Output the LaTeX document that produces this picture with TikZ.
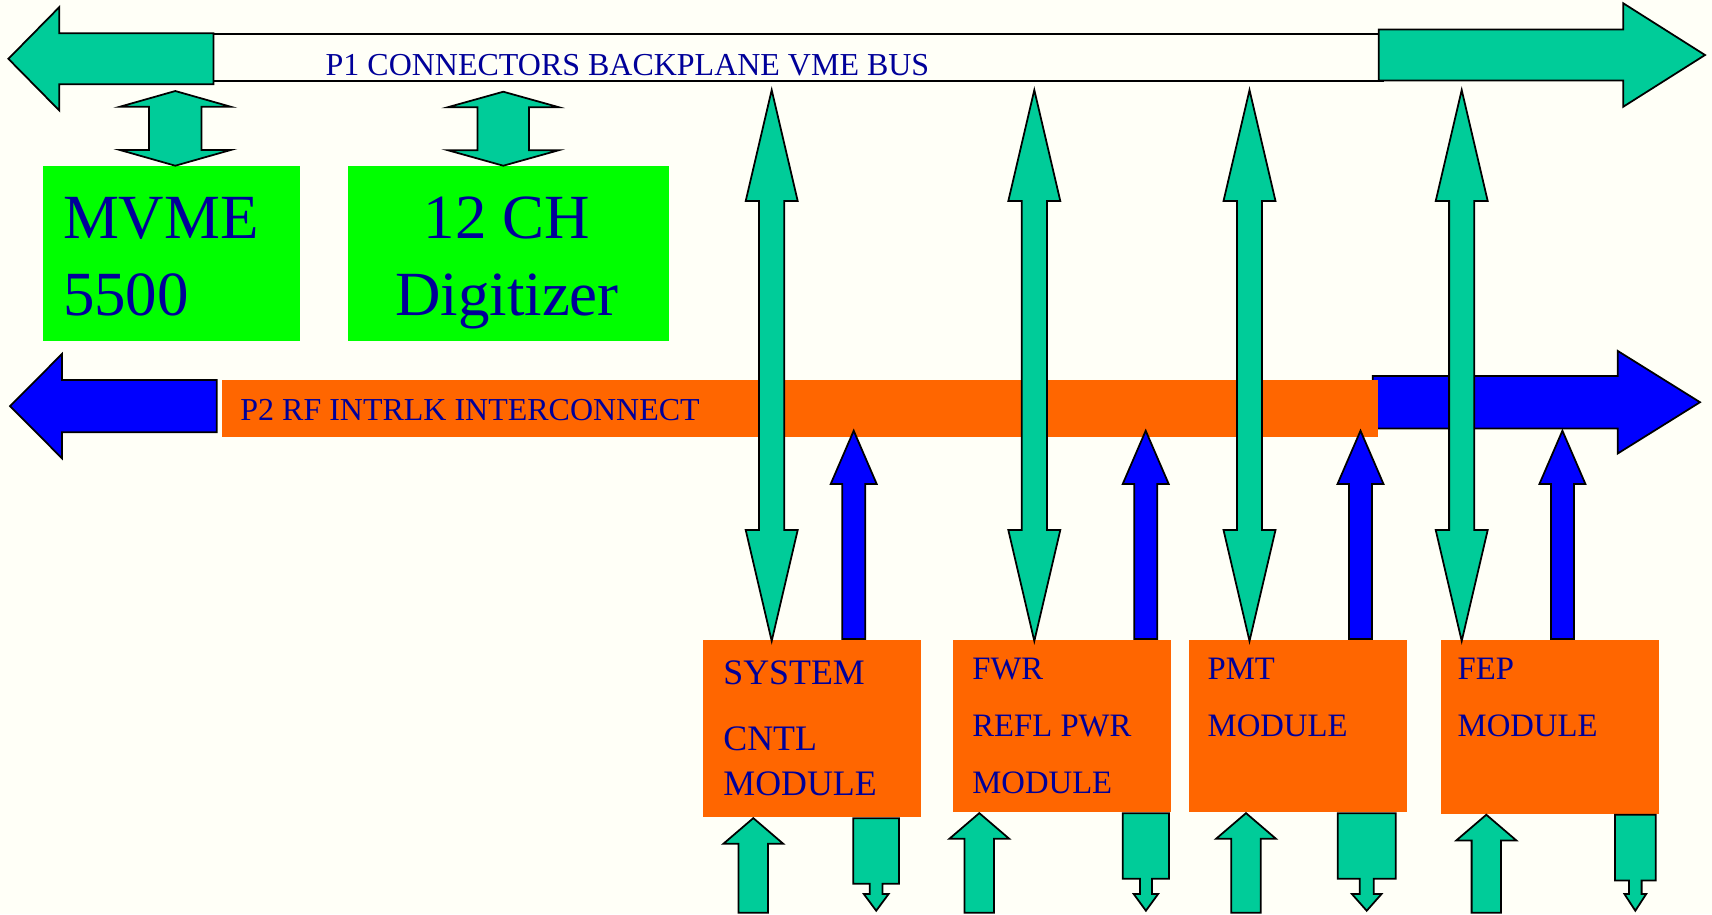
\documentclass[tikz,border=0pt]{standalone}
\usepackage{fontspec}
\setmainfont{Liberation Serif}
\usetikzlibrary{calc,positioning}

\definecolor{paper}{RGB}{255,255,247}
\definecolor{busteal}{RGB}{0,204,153}
\definecolor{boardgreen}{RGB}{0,255,0}
\definecolor{rforange}{RGB}{255,102,0}
\definecolor{rfblue}{RGB}{0,0,255}
\definecolor{navy}{RGB}{0,0,153}

% fat single arrow: [style]{tail}{tip}{head length}{head half width}{shaft half width}
\newcommand{\fatarrow}[6][]{%
  \coordinate (fa-h) at ($(#3)!#4!(#2)$);
  \draw[#1] ($(#2)!#6!90:(#3)$) -- ($(fa-h)!#6!-90:(#2)$) -- ($(fa-h)!#5!-90:(#2)$) -- (#3)
    -- ($(fa-h)!#5!90:(#2)$) -- ($(fa-h)!#6!90:(#2)$) -- ($(#2)!#6!-90:(#3)$) -- cycle;}

% fat double arrow: [style]{end a}{end b}{head length}{head half width}{shaft half width}
\newcommand{\fatdbl}[6][]{%
  \coordinate (fd-a) at ($(#2)!#4!(#3)$);
  \coordinate (fd-b) at ($(#3)!#4!(#2)$);
  \draw[#1] (#2) -- ($(fd-a)!#5!90:(#3)$) -- ($(fd-a)!#6!90:(#3)$)
    -- ($(fd-b)!#6!-90:(#2)$) -- ($(fd-b)!#5!-90:(#2)$) -- (#3)
    -- ($(fd-b)!#5!90:(#2)$) -- ($(fd-b)!#6!90:(#2)$)
    -- ($(fd-a)!#6!-90:(#3)$) -- ($(fd-a)!#5!-90:(#3)$) -- cycle;}

% output arrow, wide box then thin neck: [style]{tail}{tip}{box half}{box length}{neck half}{head length}{head half}
\newcommand{\outarrow}[8][]{%
  \coordinate (oa-b) at ($(#2)!#5!(#3)$);
  \coordinate (oa-h) at ($(#3)!#7!(#2)$);
  \draw[#1] ($(#2)!#4!90:(#3)$) -- ($(oa-b)!#4!-90:(#2)$) -- ($(oa-b)!#6!-90:(#2)$)
    -- ($(oa-h)!#6!-90:(#2)$) -- ($(oa-h)!#8!-90:(#2)$) -- (#3)
    -- ($(oa-h)!#8!90:(#2)$) -- ($(oa-h)!#6!90:(#2)$) -- ($(oa-b)!#6!90:(#2)$)
    -- ($(oa-b)!#4!90:(#2)$) -- ($(#2)!#4!-90:(#3)$) -- cycle;}

\begin{document}
\begin{tikzpicture}[
    lbl/.style={text=navy, inner sep=0pt, anchor=base west, align=left},
    board/.style={fill=boardgreen, minimum height=1.75cm, inner sep=0pt, anchor=north west},
    module/.style={fill=rforange, minimum width=2.18cm, inner sep=0pt, anchor=north west},
    busarrow/.style={fill=busteal, draw=black, line width=0.5pt},
    rfarrow/.style={fill=rfblue, draw=black, line width=0.5pt}
]
\fill[paper] (0,0) rectangle (17.12,-9.14);

% P1 backplane
\node[draw, line width=0.6pt, fill=paper, minimum width=11.77cm, minimum height=0.467cm, inner sep=0pt, anchor=north west] (p1) at (2.05,-0.333) {};
\coordinate (p1west) at (2.135,-0.588);
\coordinate (p1westend) at (0.084,-0.588);
\coordinate (p1east) at (13.787,-0.55);
\coordinate (p1eastend) at (17.05,-0.55);
\fatarrow[busarrow]{p1west}{p1westend}{0.509cm}{0.517cm}{0.255cm}
\fatarrow[busarrow]{p1east}{p1eastend}{0.817cm}{0.517cm}{0.254cm}
\node[lbl, font=\fontsize{9.1}{11}\selectfont] (p1lbl) at (3.25,-0.75) {P1 CONNECTORS BACKPLANE VME BUS};

% CPU and digitizer boards
\node[board, minimum width=2.571cm] (mvme) at (0.424,-1.657) {};
\node[board, minimum width=3.205cm, right=0.464cm of mvme.north east, anchor=north west] (dig) {};
\node[lbl, font=\fontsize{17.9}{21.8}\selectfont] (mvmelbl) at (0.623,-3.15) {MVME\\5500};
\node[lbl, anchor=base, align=center, font=\fontsize{17.9}{21.8}\selectfont] (diglbl) at (5.07,-3.15) {12 CH\\Digitizer};

\coordinate (mvmebus) at (1.753,-0.91);
\coordinate (mvmeslot) at (mvmebus |- mvme.north);
\fatdbl[busarrow]{mvmebus}{mvmeslot}{0.158cm}{0.557cm}{0.262cm}
\coordinate (digbus) at (5.033,-0.917);
\coordinate (digslot) at (digbus |- dig.north);
\fatdbl[busarrow]{digbus}{digslot}{0.155cm}{0.555cm}{0.258cm}

% P2 interconnect
\coordinate (p2west) at (2.167,-4.061);
\coordinate (p2westend) at (0.101,-4.061);
\coordinate (p2east) at (13.727,-4.022);
\coordinate (p2eastend) at (17.00,-4.022);
\fatarrow[rfarrow]{p2west}{p2westend}{0.519cm}{0.522cm}{0.262cm}
\fatarrow[rfarrow]{p2east}{p2eastend}{0.823cm}{0.513cm}{0.262cm}
\node[fill=rforange, minimum width=11.569cm, minimum height=0.577cm, inner sep=0pt, anchor=north west] (p2) at (2.208,-3.79) {};
\node[lbl, font=\fontsize{9.1}{11}\selectfont] (p2lbl) at (2.397,-4.20) {P2 RF INTRLK INTERCONNECT};

% RF modules
\node[module, minimum height=1.777cm] (sys) at (7.02,-6.39) {};
\node[module, minimum height=1.727cm, right=0.31cm of sys.north east, anchor=north west] (fwr) {};
\node[module, minimum height=1.727cm, right=0.169cm of fwr.north east, anchor=north west] (pmt) {};
\node[module, minimum height=1.743cm, right=0.322cm of pmt.north east, anchor=north west] (fep) {};

\node[lbl, font=\fontsize{10.2}{12.8}\selectfont] (syslbl) at (7.227,-7.95) {SYSTEM\\[5.9pt]CNTL\\MODULE};
\node[lbl, font=\fontsize{9.3}{16.2}\selectfont] (fwrlbl) at (9.717,-7.933) {FWR\\REFL PWR\\MODULE};
\node[lbl, font=\fontsize{9.3}{16.2}\selectfont] (pmtlbl) at (12.07,-7.367) {PMT\\MODULE};
\node[lbl, font=\fontsize{9.3}{16.2}\selectfont] (feplbl) at (14.57,-7.367) {FEP\\MODULE};

% VME bus to modules
\foreach \m/\tx in {sys/7.717, fwr/10.343, pmt/12.495, fep/14.617} {
  \coordinate (bus\m) at (\tx,-0.90);
  \coordinate (slot\m) at ($(bus\m |- \m.north)+(0,-0.02)$);
  \fatdbl[busarrow]{bus\m}{slot\m}{1.11cm}{0.26cm}{0.126cm}
}

% modules to P2
\foreach \m/\bx in {sys/8.537, fwr/11.457, pmt/13.605, fep/15.624} {
  \coordinate (rf\m) at (\bx,-4.307);
  \coordinate (rfport\m) at (rf\m |- \m.north);
  \fatarrow[rfarrow]{rfport\m}{rf\m}{0.533cm}{0.23cm}{0.115cm}
}

% front panel in / out
\foreach \m/\ix/\ox/\bh/\nh/\wh in {sys/7.533/8.762/0.229cm/0.064cm/0.124cm, fwr/9.793/11.459/0.232cm/0.06cm/0.122cm, pmt/12.46/13.667/0.29cm/0.07cm/0.148cm, fep/14.863/16.353/0.204cm/0.063cm/0.109cm} {
  \coordinate (in\m) at (\ix,-9.127);
  \coordinate (inport\m) at (in\m |- \m.south);
  \fatarrow[busarrow]{in\m}{inport\m}{0.257cm}{0.30cm}{0.147cm}
  \coordinate (out\m) at (\ox,-9.107);
  \coordinate (outport\m) at (out\m |- \m.south);
  \outarrow[busarrow]{outport\m}{out\m}{\bh}{0.657cm}{\nh}{0.167cm}{\wh}
}

\end{tikzpicture}
\end{document}
